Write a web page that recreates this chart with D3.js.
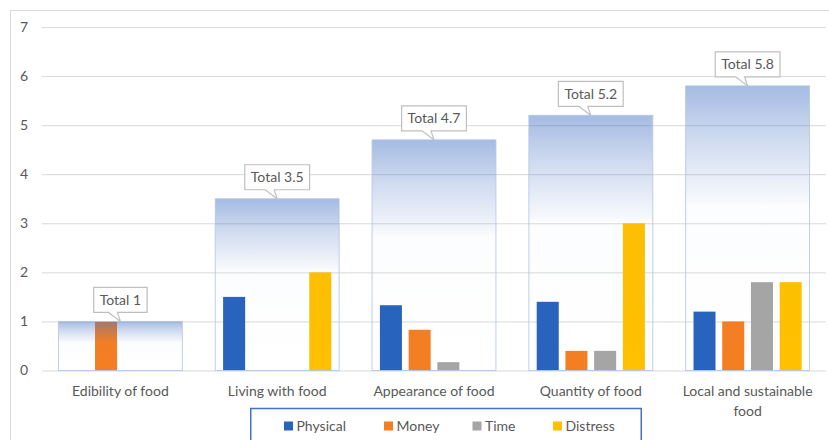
<!DOCTYPE html>
<html>
<head>
<meta charset="utf-8">
<script src="https://cdn.jsdelivr.net/npm/d3@7"></script>
<style>
  html, body { margin: 0; padding: 0; background: #fff; }
  svg { display: block; }
  text { font-family: Lato, "Liberation Sans", sans-serif; }
</style>
</head>
<body>
<svg id="chart" width="829" height="440"></svg>
<script>
// ---- data ----
const categories = ["Edibility of food", "Living with food", "Appearance of food", "Quantity of food", "Local and sustainable food"];
const seriesNames = ["Physical", "Money", "Time", "Distress"];
const physical = [0, 1.5, 1.33, 1.4, 1.2];
const money    = [1, 0, 0.83, 0.4, 1.0];
const time     = [0, 0, 0.17, 0.4, 1.8];
const distress = [0, 2, 0, 3.0, 1.8];
const totals   = [1, 3.5, 4.7, 5.2, 5.8];
const totalLabels = ["Total 1", "Total 3.5", "Total 4.7", "Total 5.2", "Total 5.8"];
const yTicks = [0, 1, 2, 3, 4, 5, 6, 7];
const seriesColors = ["#2864be", "#f47e22", "#a5a5a5", "#ffc000"];

const seriesValues = [physical, money, time, distress];

(function () {
const svg = d3.select("#chart");
const pLeft = 42, pRight = 826, pTop = 27, pBottom = 370.5;
const textColor = "#595959";

// outer chart border
svg.append("rect").attr("x", 10.5).attr("y", 10.5).attr("width", 900).attr("height", 600)
  .attr("fill", "none").attr("stroke", "#d9d9d9").attr("stroke-width", 1);

const x = d3.scaleBand().domain(categories).range([pLeft, pRight]).paddingInner(0).paddingOuter(0);
const y = d3.scaleLinear().domain([0, 7]).range([pBottom, pTop]);
const groupW = x.bandwidth() * 0.69;
const xs = d3.scaleBand().domain(seriesNames).range([-groupW / 2, groupW / 2]).paddingInner(0.233).paddingOuter(0);

// gridlines
const yAxis = d3.axisLeft(y).tickValues(yTicks).tickSize(-(pRight - pLeft)).tickFormat(d3.format("d")).tickPadding(14);
const gY = svg.append("g").attr("transform", `translate(${pLeft},0)`).call(yAxis);
gY.select(".domain").remove();
gY.selectAll(".tick line").attr("stroke", "#d9d9d9").attr("stroke-width", 1);
gY.selectAll(".tick text").attr("fill", textColor).attr("font-size", 14).attr("x", -14)
  .style("font-family", "Lato, 'Liberation Sans', sans-serif");

const defs = svg.append("defs");
const grad = defs.append("linearGradient").attr("id", "totGrad").attr("x1", 0).attr("y1", 0).attr("x2", 0).attr("y2", 1);
grad.append("stop").attr("offset", 0).attr("stop-color", "#4472c4").attr("stop-opacity", 0.48);
grad.append("stop").attr("offset", 0.2).attr("stop-color", "#4472c4").attr("stop-opacity", 0.24);
grad.append("stop").attr("offset", 0.4).attr("stop-color", "#4472c4").attr("stop-opacity", 0.05);
grad.append("stop").attr("offset", 0.42).attr("stop-color", "#4472c4").attr("stop-opacity", 0.015);
grad.append("stop").attr("offset", 1).attr("stop-color", "#4472c4").attr("stop-opacity", 0.0);

// series bars
seriesNames.forEach((s, si) => {
  svg.append("g").selectAll("rect").data(categories).join("rect")
    .attr("x", c => x(c) + x.bandwidth() / 2 + xs(s))
    .attr("width", xs.bandwidth())
    .attr("y", (c, i) => y(seriesValues[si][i]))
    .attr("height", (c, i) => y(0) - y(seriesValues[si][i]))
    .attr("fill", seriesColors[si]);
});

// total bars (overlay)
const totW = x.bandwidth() * 0.79;
svg.append("g").selectAll("rect").data(categories).join("rect")
  .attr("x", c => x(c) + x.bandwidth() / 2 - totW / 2)
  .attr("width", totW)
  .attr("y", (c, i) => y(totals[i]))
  .attr("height", (c, i) => y(0) - y(totals[i]))
  .attr("fill", "url(#totGrad)")
  .attr("stroke", "#b4c7e7").attr("stroke-opacity", 0.85).attr("stroke-width", 1);

// total callouts
categories.forEach((c, i) => {
  const cx = x(c) + x.bandwidth() / 2;
  const ty = y(totals[i]);
  const g = svg.append("g");
  const t = g.append("text").text(totalLabels[i]).attr("font-size", 14).attr("fill", textColor)
    .attr("text-anchor", "middle").attr("x", cx).attr("y", ty - 9 - 7.5);
  const tw = t.node().getComputedTextLength();
  const bw = tw + 12, bh = 25;
  const bx = cx - bw / 2, by = ty - 9 - bh;
  const p = d3.path();
  p.moveTo(bx, by);
  p.lineTo(bx + bw, by);
  p.lineTo(bx + bw, by + bh);
  p.lineTo(cx - 3, by + bh);
  p.lineTo(cx, ty);
  p.lineTo(cx - 12, by + bh);
  p.lineTo(bx, by + bh);
  p.closePath();
  g.insert("path", "text").attr("d", p.toString()).attr("fill", "#fff").attr("stroke", "#bfbfbf").attr("stroke-width", 1.2);
});

// x labels
categories.forEach(c => {
  const cx = x(c) + x.bandwidth() / 2;
  const words = c.split(" ");
  const lines = [];
  let cur = "";
  const tmp = svg.append("text").attr("font-size", 14);
  words.forEach(w => {
    const test = cur ? cur + " " + w : w;
    tmp.text(test);
    if (tmp.node().getComputedTextLength() > 145 && cur) { lines.push(cur); cur = w; }
    else cur = test;
  });
  lines.push(cur);
  tmp.remove();
  lines.forEach((ln, li) => {
    svg.append("text").text(ln).attr("x", cx).attr("y", 396 + li * 19.5)
      .attr("text-anchor", "middle").attr("font-size", 14).attr("fill", textColor);
  });
});

// legend
svg.append("rect").attr("x", 250.75).attr("y", 408.5).attr("width", 390.5).attr("height", 60)
  .attr("fill", "#fff").attr("stroke", "#4472c4").attr("stroke-width", 1.5);
const legendX = [284, 384, 472.5, 553];
seriesNames.forEach((s, si) => {
  svg.append("rect").attr("x", legendX[si]).attr("y", 421.5).attr("width", 9).attr("height", 9).attr("fill", seriesColors[si]);
  svg.append("text").text(s).attr("x", legendX[si] + 12.5).attr("y", 431).attr("font-size", 14).attr("fill", textColor);
});
})();
</script>
</body>
</html>
